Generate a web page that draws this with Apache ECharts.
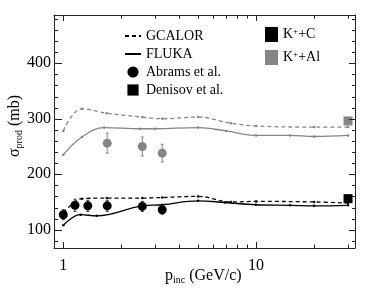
<!DOCTYPE html>
<html>
<head>
<meta charset="utf-8">
<script src="https://cdn.jsdelivr.net/npm/echarts@6/dist/echarts.min.js"></script>
<style>
html,body{margin:0;padding:0;background:#fff;}
#c{width:374px;height:296px;}
</style>
</head>
<body>
<div id="c"></div>
<script>
// ---- data ----
const alGcalorP     = [1.0, 1.25, 1.68, 2.57, 3.26, 5.0, 7.4, 10, 20, 30];
const alGcalorSigma = [278, 318, 310, 303, 300, 303, 292, 287, 285, 285];
const alFlukaP      = [1.0, 1.25, 1.63, 2.5, 3.0, 5.0, 7.0, 10, 15, 20, 30];
const alFlukaSigma  = [235, 267, 284, 282, 282, 284, 278, 270, 270, 268, 270];
const cGcalorP      = [1.0, 1.15, 1.25, 1.68, 2.57, 3.26, 5.0, 7.4, 10, 20, 30];
const cGcalorSigma  = [131, 150, 156, 157, 157, 158, 160, 150, 151, 150, 148];
const cFlukaP       = [1.0, 1.23, 1.49, 2.57, 3.26, 5.0, 6.9, 10, 15, 20, 30];
const cFlukaSigma   = [108, 127, 125, 143, 145, 152, 149, 145, 144, 143, 144];
const abramsCP      = [1.0, 1.15, 1.34, 1.69, 2.57, 3.26];
const abramsCSigma  = [127, 144, 143, 143, 142, 136];
const abramsCErr    = [9, 11, 10, 10, 9, 8];
const abramsAlP     = [1.69, 2.57, 3.26];
const abramsAlSigma = [256, 250, 238];
const abramsAlErr   = [18, 17, 16];
const denisovCP     = [30];
const denisovCSigma = [156];
const denisovCErr   = [4];
const denisovAlP    = [30];
const denisovAlSigma= [296];
const denisovAlErr  = [6];
const xMajorTicks   = [1, 10];
const xMinorTicks   = [2, 3, 4, 5, 6, 7, 8, 9, 20, 30];
const yMajorTicks   = [100, 200, 300, 400];
const yMinorTicks   = [80, 120, 140, 160, 180, 220, 240, 260, 280, 320, 340, 360, 380, 420, 440, 460, 480];
const X_MIN = 0.895, X_MAX = 32.6, Y_MIN = 67, Y_MAX = 487;

const BLACK = '#000', GRAY = '#858585', AXIS = '#222';
const FONT = '"Liberation Serif", "DejaVu Serif", serif';
const zip = (a, b) => a.map((v, i) => [v, b[i]]);
const zip3 = (a, b, c) => a.map((v, i) => [v, b[i], c[i]]);

const baseAxis = {
  axisLine: {show: true, onZero: false, lineStyle: {color: AXIS, width: 1}},
  axisTick: {show: false}, splitLine: {show: false}
};

function errSeries(name, p, s, e, color) {
  return {
    type: 'custom', name: name, z: 3, silent: true,
    data: zip3(p, s, e),
    renderItem: function (params, api) {
      const x = api.value(0), y = api.value(1), d = api.value(2);
      const top = api.coord([x, y + d]);
      const bot = api.coord([x, y - d]);
      const st = {stroke: color, lineWidth: 1};
      return {type: 'group', children: [
        {type: 'line', shape: {x1: top[0], y1: top[1], x2: bot[0], y2: bot[1]}, style: st},
        {type: 'line', shape: {x1: top[0] - 1.5, y1: top[1], x2: top[0] + 1.5, y2: top[1]}, style: st},
        {type: 'line', shape: {x1: bot[0] - 1.5, y1: bot[1], x2: bot[0] + 1.5, y2: bot[1]}, style: st}
      ]};
    }
  };
}

function curve(name, p, s, color, dashed) {
  return {
    type: 'line', name: name, smooth: 0.4,
    data: zip(p, s), symbol: 'circle', symbolSize: 2.5, showSymbol: true,
    itemStyle: {color: color}, z: 2, silent: true,
    lineStyle: {color: color, width: 1.3, type: dashed ? [4, 3] : 'solid'}
  };
}

const titleRich = {
  a: {fontFamily: FONT, fontSize: 16, fill: BLACK},
  s: {fontFamily: FONT, fontSize: 10, fill: BLACK, verticalAlign: 'bottom', padding: [8, 0, 0, 0]}
};

const chart = echarts.init(document.getElementById('c'));
chart.setOption({
  animation: false,
  grid: {left: 54, right: 19, top: 15, bottom: 48},
  xAxis: [
    Object.assign({}, baseAxis, {
      type: 'log', logBase: 10, min: X_MIN, max: X_MAX, position: 'bottom',
      axisLabel: {show: true, customValues: xMajorTicks, margin: 10, fontFamily: FONT, fontSize: 16, color: BLACK}
    }),
    Object.assign({}, baseAxis, {
      type: 'log', logBase: 10, min: X_MIN, max: X_MAX, position: 'top', axisLabel: {show: false}
    })
  ],
  yAxis: [
    Object.assign({}, baseAxis, {
      type: 'value', min: Y_MIN, max: Y_MAX, position: 'left',
      axisLabel: {show: true, customValues: yMajorTicks, margin: 3, fontFamily: FONT, fontSize: 16, color: BLACK}
    }),
    Object.assign({}, baseAxis, {
      type: 'value', min: Y_MIN, max: Y_MAX, position: 'right', axisLabel: {show: false}
    })
  ],
  legend: [
    {
      left: 119, top: 24, orient: 'vertical', itemWidth: 16, itemHeight: 14, itemGap: 4,
      data: [
        {name: 'GCALOR', itemStyle: {opacity: 0}},
        {name: 'FLUKA', itemStyle: {opacity: 0}},
        'Abrams et al.', 'Denisov et al.'
      ],
      textStyle: {fontFamily: FONT, fontSize: 14, color: BLACK}, selectedMode: false
    },
    {
      left: 260, top: 22, orient: 'vertical', itemWidth: 13, itemHeight: 15, itemGap: 8,
      data: [{name: 'K+C', icon: 'rect'}, {name: 'K+Al', icon: 'rect'}],
      formatter: function (n) { return n === 'K+C' ? '{a|K}{u|+}{a|+C}' : '{a|K}{u|+}{a|+Al}'; },
      textStyle: {fontFamily: FONT, fontSize: 14, color: BLACK, lineHeight: 15, rich: {
        a: {fontFamily: FONT, fontSize: 14, color: BLACK, lineHeight: 15},
        u: {fontFamily: FONT, fontSize: 9, color: BLACK, lineHeight: 15, verticalAlign: 'top', padding: [0, 0, 5, 0]}
      }}, selectedMode: false
    }
  ],
  series: [
    curve('alGcalor', alGcalorP, alGcalorSigma, GRAY, true),
    curve('alFluka', alFlukaP, alFlukaSigma, GRAY, false),
    curve('cGcalor', cGcalorP, cGcalorSigma, BLACK, true),
    curve('cFluka', cFlukaP, cFlukaSigma, BLACK, false),
    errSeries('abramsAlErr', abramsAlP, abramsAlSigma, abramsAlErr, GRAY),
    errSeries('abramsCErr', abramsCP, abramsCSigma, abramsCErr, '#333'),
    errSeries('denisovAlErr', denisovAlP, denisovAlSigma, denisovAlErr, GRAY),
    errSeries('denisovCErr', denisovCP, denisovCSigma, denisovCErr, '#333'),
    {type: 'scatter', name: 'abramsAl', data: zip(abramsAlP, abramsAlSigma), symbol: 'circle', symbolSize: 9, itemStyle: {color: GRAY, opacity: 1}, z: 4, silent: true},
    {type: 'scatter', name: 'abramsC', data: zip(abramsCP, abramsCSigma), symbol: 'circle', symbolSize: 9, itemStyle: {color: BLACK, opacity: 1}, z: 4, silent: true},
    {type: 'scatter', name: 'denisovAl', data: zip(denisovAlP, denisovAlSigma), symbol: 'rect', symbolSize: 9, itemStyle: {color: GRAY, opacity: 1}, z: 4, silent: true},
    {type: 'scatter', name: 'denisovC', data: zip(denisovCP, denisovCSigma), symbol: 'rect', symbolSize: 9, itemStyle: {color: BLACK, opacity: 1}, z: 4, silent: true},
    // legend-only entries
    {type: 'line', name: 'GCALOR', data: [], symbol: 'none', itemStyle: {color: BLACK}, lineStyle: {color: BLACK, width: 1.3, type: [4, 3]}},
    {type: 'line', name: 'FLUKA', data: [], symbol: 'none', itemStyle: {color: BLACK}, lineStyle: {color: BLACK, width: 1.3}},
    {type: 'line', name: 'Abrams et al.', data: [], symbol: 'circle', symbolSize: 9, itemStyle: {color: BLACK}, lineStyle: {width: 0, opacity: 0}},
    {type: 'line', name: 'Denisov et al.', data: [], symbol: 'rect', symbolSize: 9, itemStyle: {color: BLACK}, lineStyle: {width: 0, opacity: 0}},
    {type: 'scatter', name: 'K+C', data: [], itemStyle: {color: BLACK, opacity: 1}},
    {type: 'scatter', name: 'K+Al', data: [], itemStyle: {color: GRAY, opacity: 1}}
  ]
});

// Inward ticks on all four sides, positioned through the chart's own axis scales.
const px = (x, y) => chart.convertToPixel({gridIndex: 0}, [x, y]);
const tickEls = [];
function addLine(x1, y1, x2, y2) {
  tickEls.push({type: 'line', silent: true, z: 10,
    shape: {x1: x1, y1: y1, x2: x2, y2: y2}, style: {stroke: AXIS, lineWidth: 1}});
}
function addXTicks(ticks, len) {
  ticks.forEach(function (v) {
    const b = px(v, Y_MIN), t = px(v, Y_MAX);
    const x = Math.round(b[0]) + 0.5;
    addLine(x, b[1], x, b[1] - len);
    addLine(x, t[1], x, t[1] + len);
  });
}
function addYTicks(ticks, lenL, lenR) {
  ticks.forEach(function (v) {
    const l = px(X_MIN, v), r = px(X_MAX, v);
    const y = Math.round(l[1]) + 0.5;
    addLine(l[0], y, l[0] + lenL, y);
    addLine(r[0], y, r[0] - lenR, y);
  });
}
addXTicks(xMajorTicks, 6);
addXTicks(xMinorTicks, 3.5);
addYTicks(yMajorTicks, 8, 6);
addYTicks(yMinorTicks, 4, 3);

chart.setOption({
  graphic: [
    {type: 'text', left: 165, top: 268, z: 10, silent: true,
      style: {text: '{a|p}{s|inc}{a| (GeV/c)}', rich: titleRich, fill: BLACK}},
    {type: 'text', x: 15, y: 126, rotation: Math.PI / 2, z: 10, silent: true,
      style: {text: '{a|σ}{s|prod}{a| (mb)}', rich: titleRich, fill: BLACK, align: 'center', verticalAlign: 'middle'}}
  ].concat(tickEls)
});
</script>
</body>
</html>
